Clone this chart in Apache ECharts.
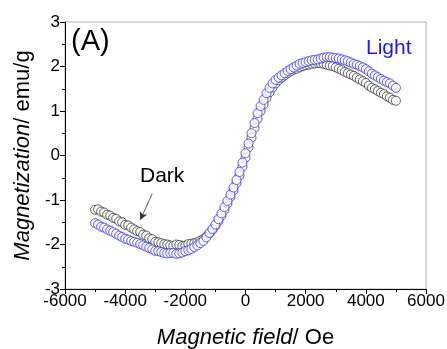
<!DOCTYPE html>
<html>
<head>
<meta charset="utf-8">
<script src="https://cdn.jsdelivr.net/npm/echarts@6/dist/echarts.min.js"></script>
<style>
  html, body { margin: 0; padding: 0; background: #fff; }
  #chart { width: 447px; height: 349px; }
</style>
</head>
<body>
<div id="chart"></div>
<script>
// field values (Oe), same for both runs
let field = [
  -5000, -4900, -4800, -4700, -4600, -4500, -4400, -4300, -4200, -4100,
  -4000, -3900, -3800, -3700, -3600, -3500, -3400, -3300, -3200, -3100,
  -3000, -2900, -2800, -2700, -2600, -2500, -2400, -2300, -2200, -2100,
  -2000, -1900, -1800, -1700, -1600, -1500, -1400, -1300, -1200, -1100,
  -1000, -900, -800, -700, -600, -500, -400, -300, -200, -100,
  0, 100, 200, 300, 400, 500, 600, 700, 800, 900,
  1000, 1100, 1200, 1300, 1400, 1500, 1600, 1700, 1800, 1900,
  2000, 2100, 2200, 2300, 2400, 2500, 2600, 2700, 2800, 2900,
  3000, 3100, 3200, 3300, 3400, 3500, 3600, 3700, 3800, 3900,
  4000, 4100, 4200, 4300, 4400, 4500, 4600, 4700, 4800, 4900,
  5000
];

// magnetization (emu/g)
let dark = [
  -1.22, -1.21, -1.26, -1.28, -1.33, -1.35, -1.40, -1.42, -1.48, -1.50,
  -1.56, -1.57, -1.62, -1.66, -1.70, -1.72, -1.78, -1.80, -1.86, -1.88,
  -1.94, -1.95, -1.97, -1.99, -2.00, -2.02, -2.03, -2.00, -2.01, -2.03,
  -2.02, -1.99, -1.98, -1.97, -1.95, -1.91, -1.88, -1.82, -1.75, -1.67,
  -1.58, -1.47, -1.35, -1.22, -1.08, -0.93, -0.78, -0.62, -0.45, -0.25,
  -0.05, 0.18, 0.40, 0.62, 0.82, 1.00, 1.15, 1.30, 1.42, 1.53,
  1.62, 1.69, 1.75, 1.80, 1.85, 1.89, 1.93, 1.95, 1.98, 2.01,
  2.03, 2.04, 2.06, 2.07, 2.08, 2.07, 2.06, 2.04, 2.02, 2.01,
  1.98, 1.95, 1.92, 1.88, 1.85, 1.82, 1.79, 1.75, 1.71, 1.67,
  1.63, 1.57, 1.52, 1.49, 1.45, 1.41, 1.38, 1.33, 1.30, 1.25,
  1.23
];

let light = [
  -1.52, -1.55, -1.60, -1.62, -1.66, -1.69, -1.72, -1.76, -1.80, -1.83,
  -1.87, -1.89, -1.92, -1.94, -1.96, -1.99, -2.02, -2.05, -2.08, -2.11,
  -2.14, -2.15, -2.17, -2.19, -2.20, -2.19, -2.19, -2.21, -2.20, -2.18,
  -2.15, -2.13, -2.10, -2.06, -2.02, -1.97, -1.92, -1.84, -1.74, -1.65,
  -1.55, -1.43, -1.30, -1.16, -1.02, -0.88, -0.72, -0.55, -0.37, -0.16,
  0.05, 0.27, 0.50, 0.73, 0.95, 1.11, 1.25, 1.40, 1.52, 1.62,
  1.70, 1.75, 1.80, 1.85, 1.90, 1.94, 1.98, 2.02, 2.06, 2.08,
  2.10, 2.12, 2.14, 2.15, 2.16, 2.18, 2.20, 2.21, 2.21, 2.20,
  2.19, 2.18, 2.16, 2.14, 2.12, 2.09, 2.06, 2.04, 2.01, 1.98,
  1.94, 1.89, 1.84, 1.80, 1.76, 1.72, 1.68, 1.65, 1.62, 1.57,
  1.52
];

(function () {
  let myChart = echarts.init(document.getElementById('chart'));
  let font = "'Liberation Sans', Arial, sans-serif";

  let pairs = (ys) => field.map((x, i) => [x, ys[i]]);

  let option = {
    animation: false,
    textStyle: { fontFamily: font },
    grid: {
      left: 65, right: 21, top: 22, bottom: 60,
      outerBoundsMode: 'none',
      containLabel: false,
      show: true, borderColor: '#b0b0b0', borderWidth: 1
    },
    xAxis: {
      type: 'value',
      min: -6000, max: 6000, interval: 2000,
      name: '{i|Magnetic field}/ Oe',
      nameLocation: 'middle',
      nameGap: 38,
      nameTextStyle: {
        fontSize: 22, color: '#000', fontFamily: font,
        rich: { i: { fontSize: 22, fontStyle: 'italic', fontFamily: font, color: '#000' } }
      },
      axisLine: { onZero: false, lineStyle: { color: '#000', width: 1 } },
      axisTick: { length: 5, lineStyle: { color: '#000' } },
      minorTick: { show: true, splitNumber: 2, length: 3, lineStyle: { color: '#000' } },
      axisLabel: { fontSize: 17, color: '#000', margin: 4, formatter: v => String(v) },
      splitLine: { show: false }
    },
    yAxis: {
      type: 'value',
      min: -3, max: 3, interval: 1,
      name: '{i|Magnetization}/ emu/g',
      nameLocation: 'middle',
      nameGap: 30,
      nameTextStyle: {
        fontSize: 22, color: '#000', fontFamily: font,
        rich: { i: { fontSize: 22, fontStyle: 'italic', fontFamily: font, color: '#000' } }
      },
      axisLine: { show: true, onZero: false, lineStyle: { color: '#000', width: 1 } },
      axisTick: { show: true, length: 5, lineStyle: { color: '#000' } },
      minorTick: { show: true, splitNumber: 2, length: 3, lineStyle: { color: '#000' } },
      axisLabel: { fontSize: 17, color: '#000', margin: 5 },
      splitLine: { show: false }
    },
    series: [
      {
        name: 'Dark',
        type: 'scatter',
        symbol: 'circle',
        symbolSize: 9,
        itemStyle: { color: '#fff', borderColor: '#3a3a3a', borderWidth: 1 },
        data: pairs(dark),
        markLine: {
          silent: true,
          symbol: ['none', 'arrow'],
          symbolSize: [6, 8],
          label: { show: false },
          lineStyle: { color: '#333', width: 0.8, type: 'solid' },
          data: [[{ coord: [-3100, -0.86] }, { coord: [-3500, -1.45] }]]
        }
      },
      {
        name: 'Light',
        type: 'scatter',
        symbol: 'circle',
        symbolSize: 9,
        itemStyle: { color: '#fff', borderColor: '#3535ff', borderWidth: 1 },
        data: pairs(light)
      }
    ],
    graphic: [
      { type: 'text', left: 71, top: 27, style: { text: '(A)', font: '29px ' + font, fill: '#000' } },
      { type: 'text', left: 366, top: 38, style: { text: 'Light', font: '21px ' + font, fill: '#1a1aff' } },
      { type: 'text', left: 140, top: 166, style: { text: 'Dark', font: '21px ' + font, fill: '#000' } }
    ]
  };

  myChart.setOption(option);
  window.addEventListener('resize', function () {
    myChart.resize();
  });
})();
</script>
</body>
</html>
